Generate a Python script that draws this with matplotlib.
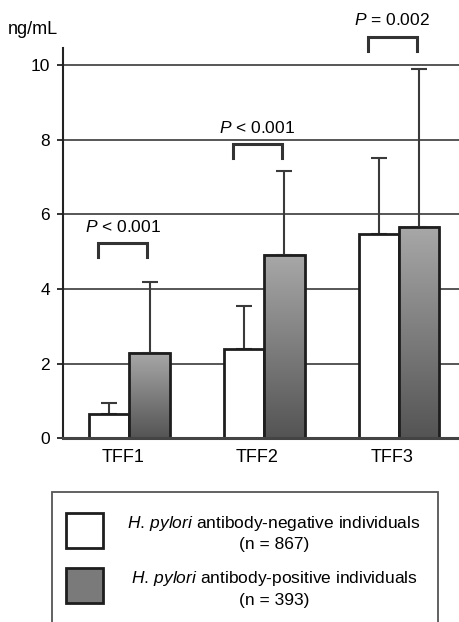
import numpy as np
import matplotlib
matplotlib.use("Agg")
import matplotlib.pyplot as plt
from matplotlib.colors import LinearSegmentedColormap
from matplotlib.patches import Rectangle

# ---------------- data ----------------
categories = ["TFF1", "TFF2", "TFF3"]
neg_mean = [0.65, 2.38, 5.46]
neg_sd = [0.30, 1.16, 2.05]
pos_mean = [2.29, 4.90, 5.67]
pos_sd = [1.89, 2.26, 4.21]
p_labels = ["< 0.001", "< 0.001", "= 0.002"]
bracket_top = [5.22, 7.87, 10.74]
yticks = [0, 2, 4, 6, 8, 10]
legend_neg = [r"$H.\,pylori$ antibody-negative individuals", "(n = 867)"]
legend_pos = [r"$H.\,pylori$ antibody-positive individuals", "(n = 393)"]

plt.rcParams["font.family"] = ["Liberation Sans", "DejaVu Sans"]
plt.rcParams["mathtext.fontset"] = "custom"
plt.rcParams["mathtext.rm"] = "Liberation Sans"
plt.rcParams["mathtext.it"] = "Liberation Sans:italic"

W, H = 460, 622
fig = plt.figure(figsize=(W / 100, H / 100), dpi=100)

def fx(px):
    return px / W

def fy(py):
    return 1 - py / H

ax_left, ax_right, ax_top, ax_bot = 63, 460, 48, 438.3
ax = fig.add_axes([fx(ax_left), fy(ax_bot), fx(ax_right - ax_left), (ax_bot - ax_top) / H])

x = np.arange(1, len(categories) + 1)
w = 0.30
edge = "#1e1e1e"

# gridlines
for t in yticks[1:]:
    ax.axhline(t, color="#3a3a3a", lw=1.2, zorder=0)

# white bars
ax.bar(x - w / 2, neg_mean, width=w, color="white", edgecolor=edge, linewidth=2, zorder=3)
# gray bars with gradient
cmap = LinearSegmentedColormap.from_list("g", ["#545454", "#a8a8a8"])
grad = np.linspace(0, 1, 256).reshape(-1, 1)
for xi, m in zip(x, pos_mean):
    ax.imshow(grad, extent=[xi, xi + w, 0, m], origin="lower", aspect="auto",
              cmap=cmap, interpolation="bilinear", zorder=3)
ax.bar(x + w / 2, pos_mean, width=w, color="none", edgecolor=edge, linewidth=2, zorder=4)

# one-sided error bars
ax.errorbar(x - w / 2, neg_mean, yerr=[np.zeros(3), neg_sd], fmt="none",
            ecolor="#3a3a3a", elinewidth=1.5, capsize=5.5, capthick=1.5, zorder=2)
ax.errorbar(x + w / 2, pos_mean, yerr=[np.zeros(3), pos_sd], fmt="none",
            ecolor="#3a3a3a", elinewidth=1.5, capsize=5.5, capthick=1.5, zorder=2)

# significance brackets
for xi, bt, pl in zip(x, bracket_top, p_labels):
    xl, xr = xi - 0.233, xi + 0.131
    ax.plot([xl, xl, xr, xr], [bt - 0.36, bt, bt, bt - 0.36], color="#333333",
            lw=2.2, clip_on=False, solid_joinstyle="miter", zorder=5)
    ax.text((xl + xr) / 2, bt + 0.45, r"$P$ " + pl, ha="center", va="center",
            fontsize=12.5, clip_on=False)

ax.set_xlim(0.5065, 3.453)
ax.set_ylim(0, 10.45)
ax.set_yticks(yticks)
ax.set_yticklabels([str(t) for t in yticks], fontsize=12.5)
ax.set_xticks(x - 0.05)
ax.set_xticklabels(categories, fontsize=13)
ax.tick_params(axis="y", length=4.5, width=1.3, color="#222222", pad=5)
ax.tick_params(axis="x", length=0, pad=8)
for s in ["top", "right"]:
    ax.spines[s].set_visible(False)
ax.spines["left"].set_color("#222222")
ax.spines["left"].set_linewidth(1.5)
ax.spines["bottom"].set_color("#444444")
ax.spines["bottom"].set_linewidth(2.2)
ax.spines["bottom"].set_zorder(6)

fig.text(fx(33), fy(30), "ng/mL", ha="center", va="center", fontsize=13)

# legend box
fig.patches.append(Rectangle((fx(51.7), fy(640)), fx(437.7 - 51.7), (640 - 492.3) / H,
                             transform=fig.transFigure, facecolor="white",
                             edgecolor="#555555", lw=1.3))
fig.patches.append(Rectangle((fx(65.7), fy(548.3)), fx(103.3 - 65.7), (548.3 - 513.3) / H,
                             transform=fig.transFigure, facecolor="white",
                             edgecolor=edge, lw=2))
fig.patches.append(Rectangle((fx(65.7), fy(602.7)), fx(103.3 - 65.7), (602.7 - 568.3) / H,
                             transform=fig.transFigure, facecolor="#7a7a7a",
                             edgecolor=edge, lw=2))
for (l1, l2), y1, y2 in [(legend_neg, 523.3, 545), (legend_pos, 578.3, 600)]:
    fig.text(fx(274), fy(y1), l1, ha="center", va="center", fontsize=12.5)
    fig.text(fx(274), fy(y2), l2, ha="center", va="center", fontsize=12.5)

fig.savefig("out.png", dpi=100)
